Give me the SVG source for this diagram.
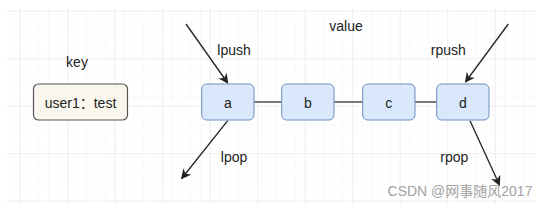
<svg xmlns="http://www.w3.org/2000/svg" width="541" height="207" viewBox="0 0 541 207">
<defs>
<pattern id="minor" x="1.7" y="2.2" width="9.5" height="9.5" patternUnits="userSpaceOnUse">
<path d="M9.5 0V9.5M0 9.5H9.5" fill="none" stroke="#f3f3f3" stroke-width="1"/>
</pattern>
<pattern id="major" x="-26.8" y="-35.8" width="47.5" height="47.5" patternUnits="userSpaceOnUse">
<path d="M47.5 0V47.5M0 47.5H47.5" fill="none" stroke="#e6e6e6" stroke-width="1"/>
</pattern>
<marker id="arr" viewBox="0 0 10 10" refX="9" refY="5" markerWidth="10" markerHeight="10" markerUnits="userSpaceOnUse" orient="auto">
<path d="M0 0L10 5L0 10L3 5Z" fill="#222"/>
</marker>
</defs>
<style>
.t{font-family:"Liberation Sans","Noto Sans CJK SC",Arial,sans-serif;font-size:14px;fill:#222;text-anchor:middle;dominant-baseline:central}
.n{fill:#dae8fc;stroke:#6c8ebf;stroke-width:1}
.k{fill:#f9f7ed;stroke:#555;stroke-width:1.2}
.c{stroke:#333;stroke-width:1.3;fill:none}
.a{stroke:#222;stroke-width:1.3;fill:none;marker-end:url(#arr)}
</style>
<rect width="541" height="207" fill="#fff"/>
<rect x="6" y="8" width="530" height="196" fill="url(#minor)"/>
<rect x="6" y="8" width="530" height="196" fill="url(#major)"/>
<g id="key-label"><text class="t" x="77" y="62">key</text></g>
<g id="value-label"><text class="t" x="346" y="26">value</text></g>
<g id="key"><rect class="k" x="33.5" y="84" width="94" height="36" rx="5"/><text class="t" x="80.5" y="103">user1：test</text></g>
<g id="connectors">
<line class="c" x1="254" y1="102" x2="281.7" y2="102"/>
<line class="c" x1="334" y1="102" x2="362.7" y2="102"/>
<line class="c" x1="415" y1="102" x2="436.7" y2="102"/>
<line class="a" x1="186" y1="24" x2="227.7" y2="83"/>
<line class="a" x1="227.7" y1="120.7" x2="181.7" y2="178.5"/>
<line class="a" x1="508.3" y1="24" x2="465.5" y2="82"/>
<line class="a" x1="470" y1="120.7" x2="499.5" y2="185"/>
</g>
<g id="a"><rect class="n" x="201.7" y="84" width="52.3" height="36" rx="5"/><text class="t" x="227.8" y="103">a</text></g>
<g id="b"><rect class="n" x="281.7" y="84" width="52.3" height="36" rx="5"/><text class="t" x="307.8" y="103">b</text></g>
<g id="c"><rect class="n" x="362.7" y="84" width="52.3" height="36" rx="5"/><text class="t" x="388.8" y="103">c</text></g>
<g id="d"><rect class="n" x="436.7" y="84" width="52.3" height="36" rx="5"/><text class="t" x="462.8" y="103">d</text></g>
<g id="lpush"><text class="t" x="234" y="50">lpush</text></g>
<g id="lpop"><text class="t" x="234" y="157">lpop</text></g>
<g id="rpush"><text class="t" x="448.3" y="50">rpush</text></g>
<g id="rpop"><text class="t" x="454.3" y="157">rpop</text></g>
<g id="watermark"><text class="t" x="460" y="191" style="fill:#999;opacity:0.9">CSDN @网事随风2017</text></g>
</svg>
